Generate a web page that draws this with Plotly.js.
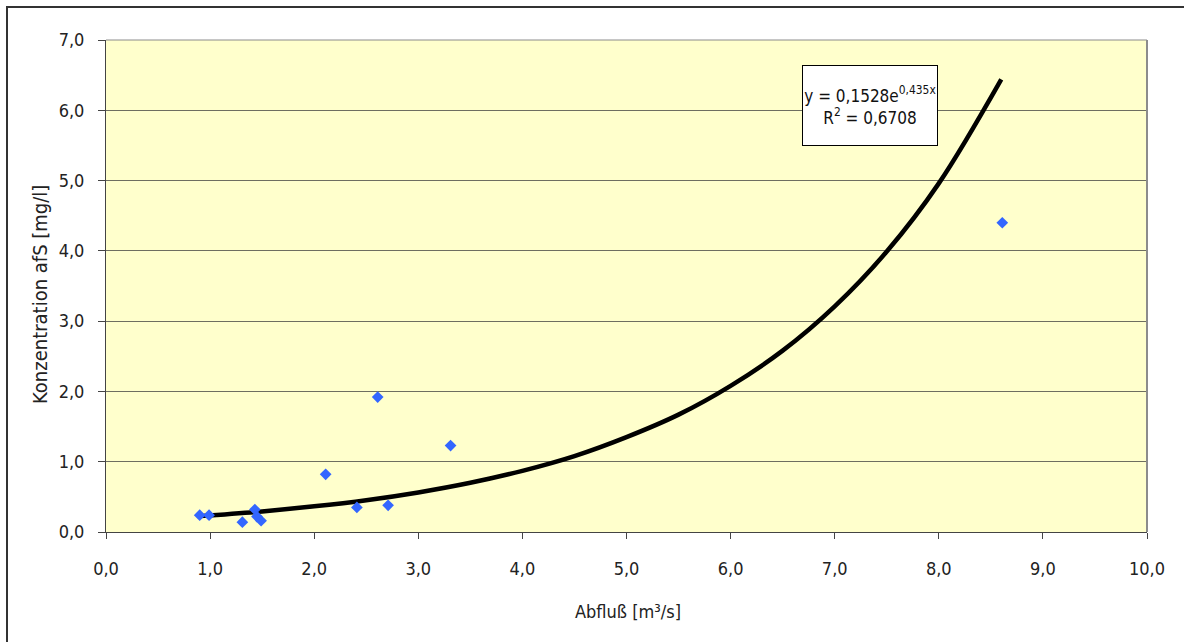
<!DOCTYPE html>
<html>
<head>
<meta charset="utf-8">
<script src="https://cdn.plot.ly/plotly-3.0.1.min.js"></script>
<style>html,body{margin:0;padding:0;background:#fff;}#chart{width:1184px;height:642px;}</style>
</head>
<body>
<div id="chart"></div>
<script>
// Measured points: Abfluß [m³/s] vs Konzentration afS [mg/l]
const abfluss = [0.90, 0.99, 1.31, 1.43, 1.45, 1.49, 2.11, 2.41, 2.61, 2.71, 3.31, 8.61];
const konzentration = [0.24, 0.24, 0.14, 0.32, 0.22, 0.16, 0.82, 0.35, 1.92, 0.38, 1.23, 4.40];
// Exponential trend line
const trendX = [0.9, 1.5, 2.0, 2.5, 3.0, 3.5, 4.0, 4.5, 5.0, 5.5, 6.0, 6.5, 7.0, 7.5, 8.0, 8.6];
const trendY = [0.226, 0.293, 0.365, 0.452, 0.563, 0.700, 0.870, 1.08, 1.35, 1.67, 2.08, 2.58, 3.21, 3.99, 4.96, 6.44];
const xTicks = [0,1,2,3,4,5,6,7,8,9,10];
const xTickText = ["0,0","1,0","2,0","3,0","4,0","5,0","6,0","7,0","8,0","9,0","10,0"];
const yTicks = [0,1,2,3,4,5,6,7];
const yTickText = ["0,0","1,0","2,0","3,0","4,0","5,0","6,0","7,0"];
const xTitle = "Abfluß [m³/s]";
const yTitle = "Konzentration afS [mg/l]";
const eqText = "y = 0,1528e<sup>0,435x</sup><br>R<sup>2</sup> = 0,6708";

const FONT = "DejaVu Sans Condensed, Liberation Sans Narrow, Liberation Sans, sans-serif";
const traces = [
  {x: trendX, y: trendY, type: "scatter", mode: "lines",
   line: {color: "#000000", width: 4.5, shape: "spline"}, hoverinfo: "skip"},
  {x: abfluss, y: konzentration, type: "scatter", mode: "markers",
   marker: {symbol: "diamond", size: 9, color: "#3366FF"}}
];
const layout = {
  width: 1184, height: 642,
  margin: {l: 106, r: 37, t: 40, b: 110},
  paper_bgcolor: "#ffffff", plot_bgcolor: "#FFFFCC",
  showlegend: false,
  font: {family: FONT, size: 18, color: "#222222"},
  xaxis: {range: [0, 10], tickvals: xTicks, ticktext: xTickText, showgrid: false,
          zeroline: false, showline: true, linecolor: "#444444", linewidth: 1,
          ticks: "outside", ticklen: 6, tickcolor: "#444444", ticklabelstandoff: 14,
          tickfont: {family: FONT, size: 18, color: "#222222"}},
  yaxis: {range: [0, 7], tickvals: yTicks, ticktext: yTickText, showgrid: true,
          gridcolor: "#6e6e60", gridwidth: 1, zeroline: false, showline: true,
          linecolor: "#444444", linewidth: 1, ticks: "outside", ticklen: 7,
          tickcolor: "#444444", ticklabelstandoff: 10,
          tickfont: {family: FONT, size: 18, color: "#222222"}},
  shapes: [
    {type: "line", xref: "paper", yref: "paper", x0: 1, x1: 1, y0: 0, y1: 1,
     line: {color: "#8c8c8c", width: 2}},
    {type: "line", xref: "paper", yref: "paper", x0: 0, x1: 1, y0: 1, y1: 1,
     line: {color: "#8c8c8c", width: 1}},
    {type: "path", xref: "paper", yref: "paper",
     path: "M -0.0951,-0.3 L -0.0951,1.0671 L 1.2,1.0671",
     line: {color: "#333333", width: 2}}
  ],
  annotations: [
    {xref: "paper", yref: "paper", x: 0.7339, y: 0.8669, xanchor: "center", yanchor: "middle",
     text: eqText, showarrow: false, bgcolor: "#ffffff", bordercolor: "#000000",
     borderwidth: 1, borderpad: 1, width: 132, height: 77,
     font: {family: FONT, size: 17, color: "#111111"}},
    {xref: "paper", yref: "paper", x: 0.5014, y: (532 - 611) / 492, xanchor: "center", yanchor: "middle",
     text: xTitle, showarrow: false, font: {family: FONT, size: 18, color: "#222222"}},
    {xref: "paper", yref: "paper", x: (40 - 106) / 1041, y: 0.4817, xanchor: "center", yanchor: "middle",
     text: yTitle, textangle: -90, showarrow: false, font: {family: FONT, size: 20, color: "#222222"}}
  ]
};
Plotly.newPlot("chart", traces, layout, {displayModeBar: false, staticPlot: true});
</script>
</body>
</html>
